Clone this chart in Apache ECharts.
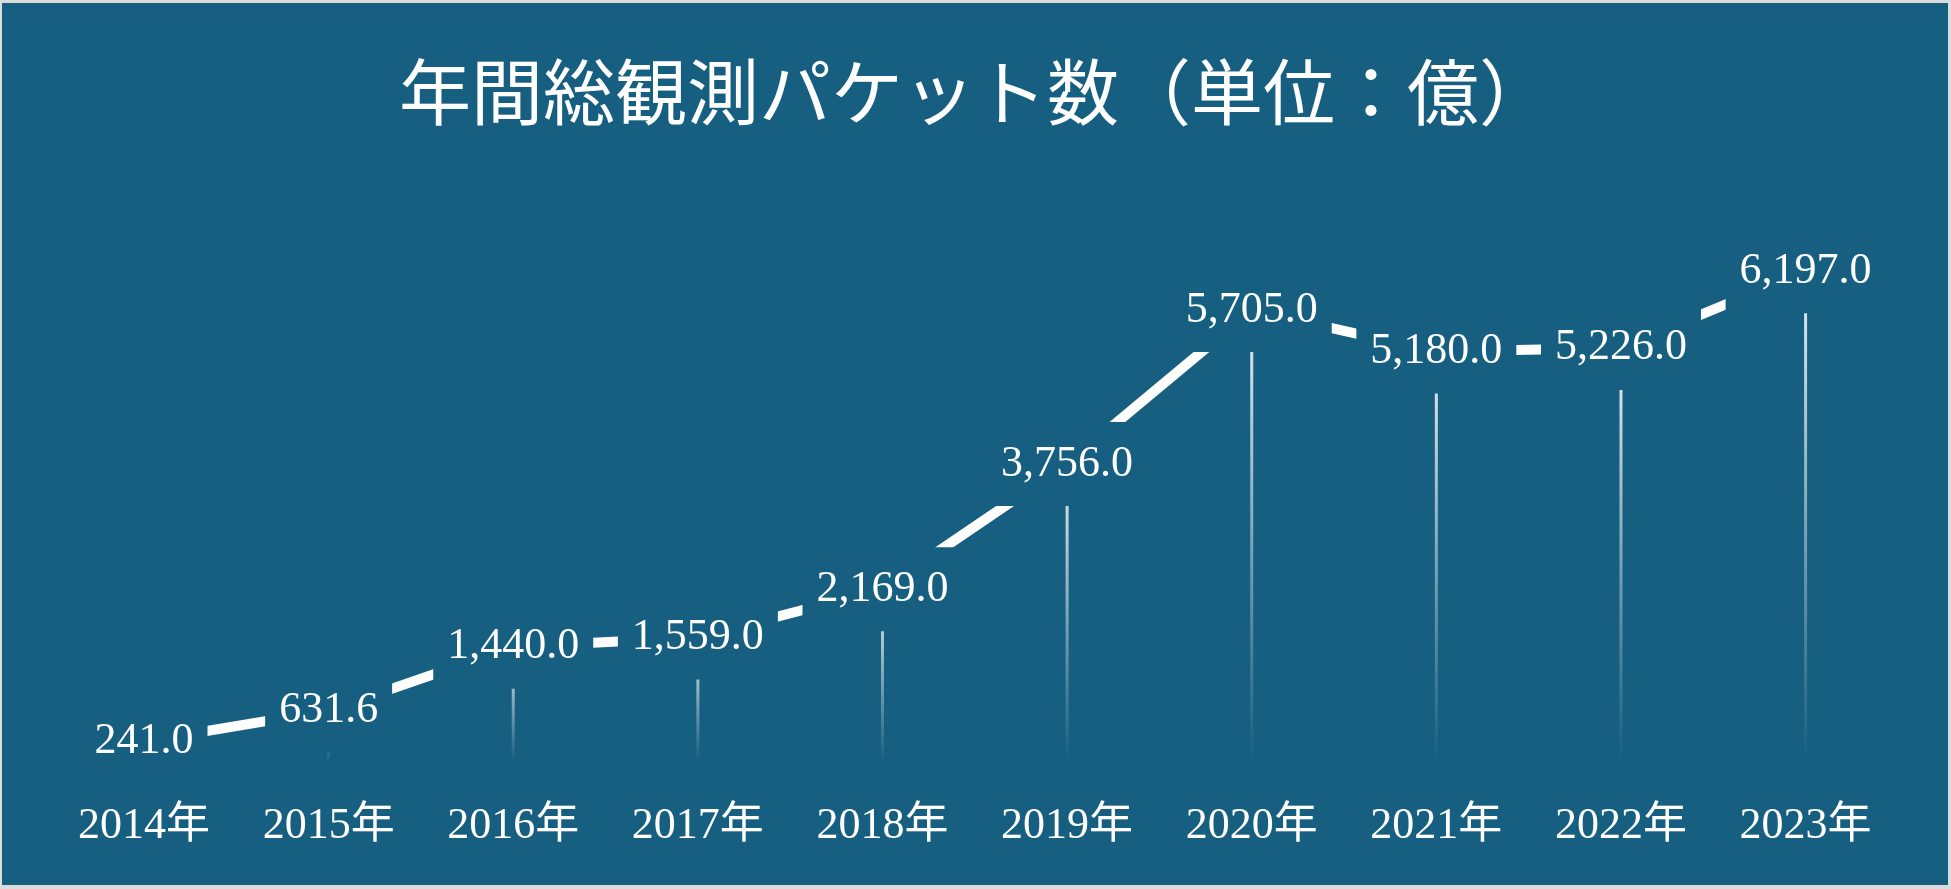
<!DOCTYPE html>
<html>
<head>
<meta charset="utf-8">
<script src="https://cdn.jsdelivr.net/npm/echarts@6/dist/echarts.min.js"></script>
<style>
  html, body { margin: 0; padding: 0; background: #dcdcdc; width: 1951px; height: 889px; overflow: hidden; }
  #chart { position: absolute; left: 2px; top: 3px; width: 1946px; height: 882px; }
</style>
</head>
<body>
<div id="chart"></div>
<script>
const titleText = '年間総観測パケット数（単位：億）';
const categories = ['2014年', '2015年', '2016年', '2017年', '2018年', '2019年', '2020年', '2021年', '2022年', '2023年'];
const packetValues = [241.0, 631.6, 1440.0, 1559.0, 2169.0, 3756.0, 5705.0, 5180.0, 5226.0, 6197.0];

const BG = '#175f80';
const FONT = "'Liberation Serif', 'Noto Sans CJK JP', serif";

const chart = echarts.init(document.getElementById('chart'));
chart.setOption({
  backgroundColor: BG,
  animation: false,
  title: {
    text: titleText,
    left: 'center',
    top: 56,
    textStyle: { color: '#ffffff', fontSize: 72, fontWeight: 'normal', fontFamily: FONT }
  },
  grid: { left: 49.7, right: 50.1, top: 204.85, bottom: 124.5, containLabel: false },
  xAxis: {
    type: 'category',
    data: categories,
    boundaryGap: true,
    axisLine: { show: false },
    axisTick: { show: false },
    splitLine: { show: false },
    axisLabel: { color: '#ffffff', fontSize: 44, fontFamily: FONT, margin: 44, interval: 0 }
  },
  yAxis: {
    type: 'value',
    min: 0,
    max: 7000,
    show: false,
    splitLine: { show: false }
  },
  series: [
    {
      type: 'bar',
      data: packetValues,
      barWidth: 3,
      z: 1,
      itemStyle: {
        color: new echarts.graphic.LinearGradient(0, 0, 0, 1, [
          { offset: 0, color: 'rgba(255,255,255,0.9)' },
          { offset: 1, color: 'rgba(255,255,255,0)' }
        ])
      },
      silent: true
    },
    {
      type: 'line',
      data: packetValues,
      z: 3,
      symbol: 'circle',
      symbolSize: 1,
      itemStyle: { color: '#ffffff' },
      lineStyle: { color: '#ffffff', width: 10 },
      label: {
        show: true,
        position: 'inside',
        color: '#ffffff',
        fontSize: 44,
        fontFamily: FONT,
        backgroundColor: BG,
        padding: [20, 14],
        formatter: p => p.value.toLocaleString('en-US', { minimumFractionDigits: 1, maximumFractionDigits: 1 })
      },
      silent: true
    }
  ]
});
</script>
</body>
</html>
